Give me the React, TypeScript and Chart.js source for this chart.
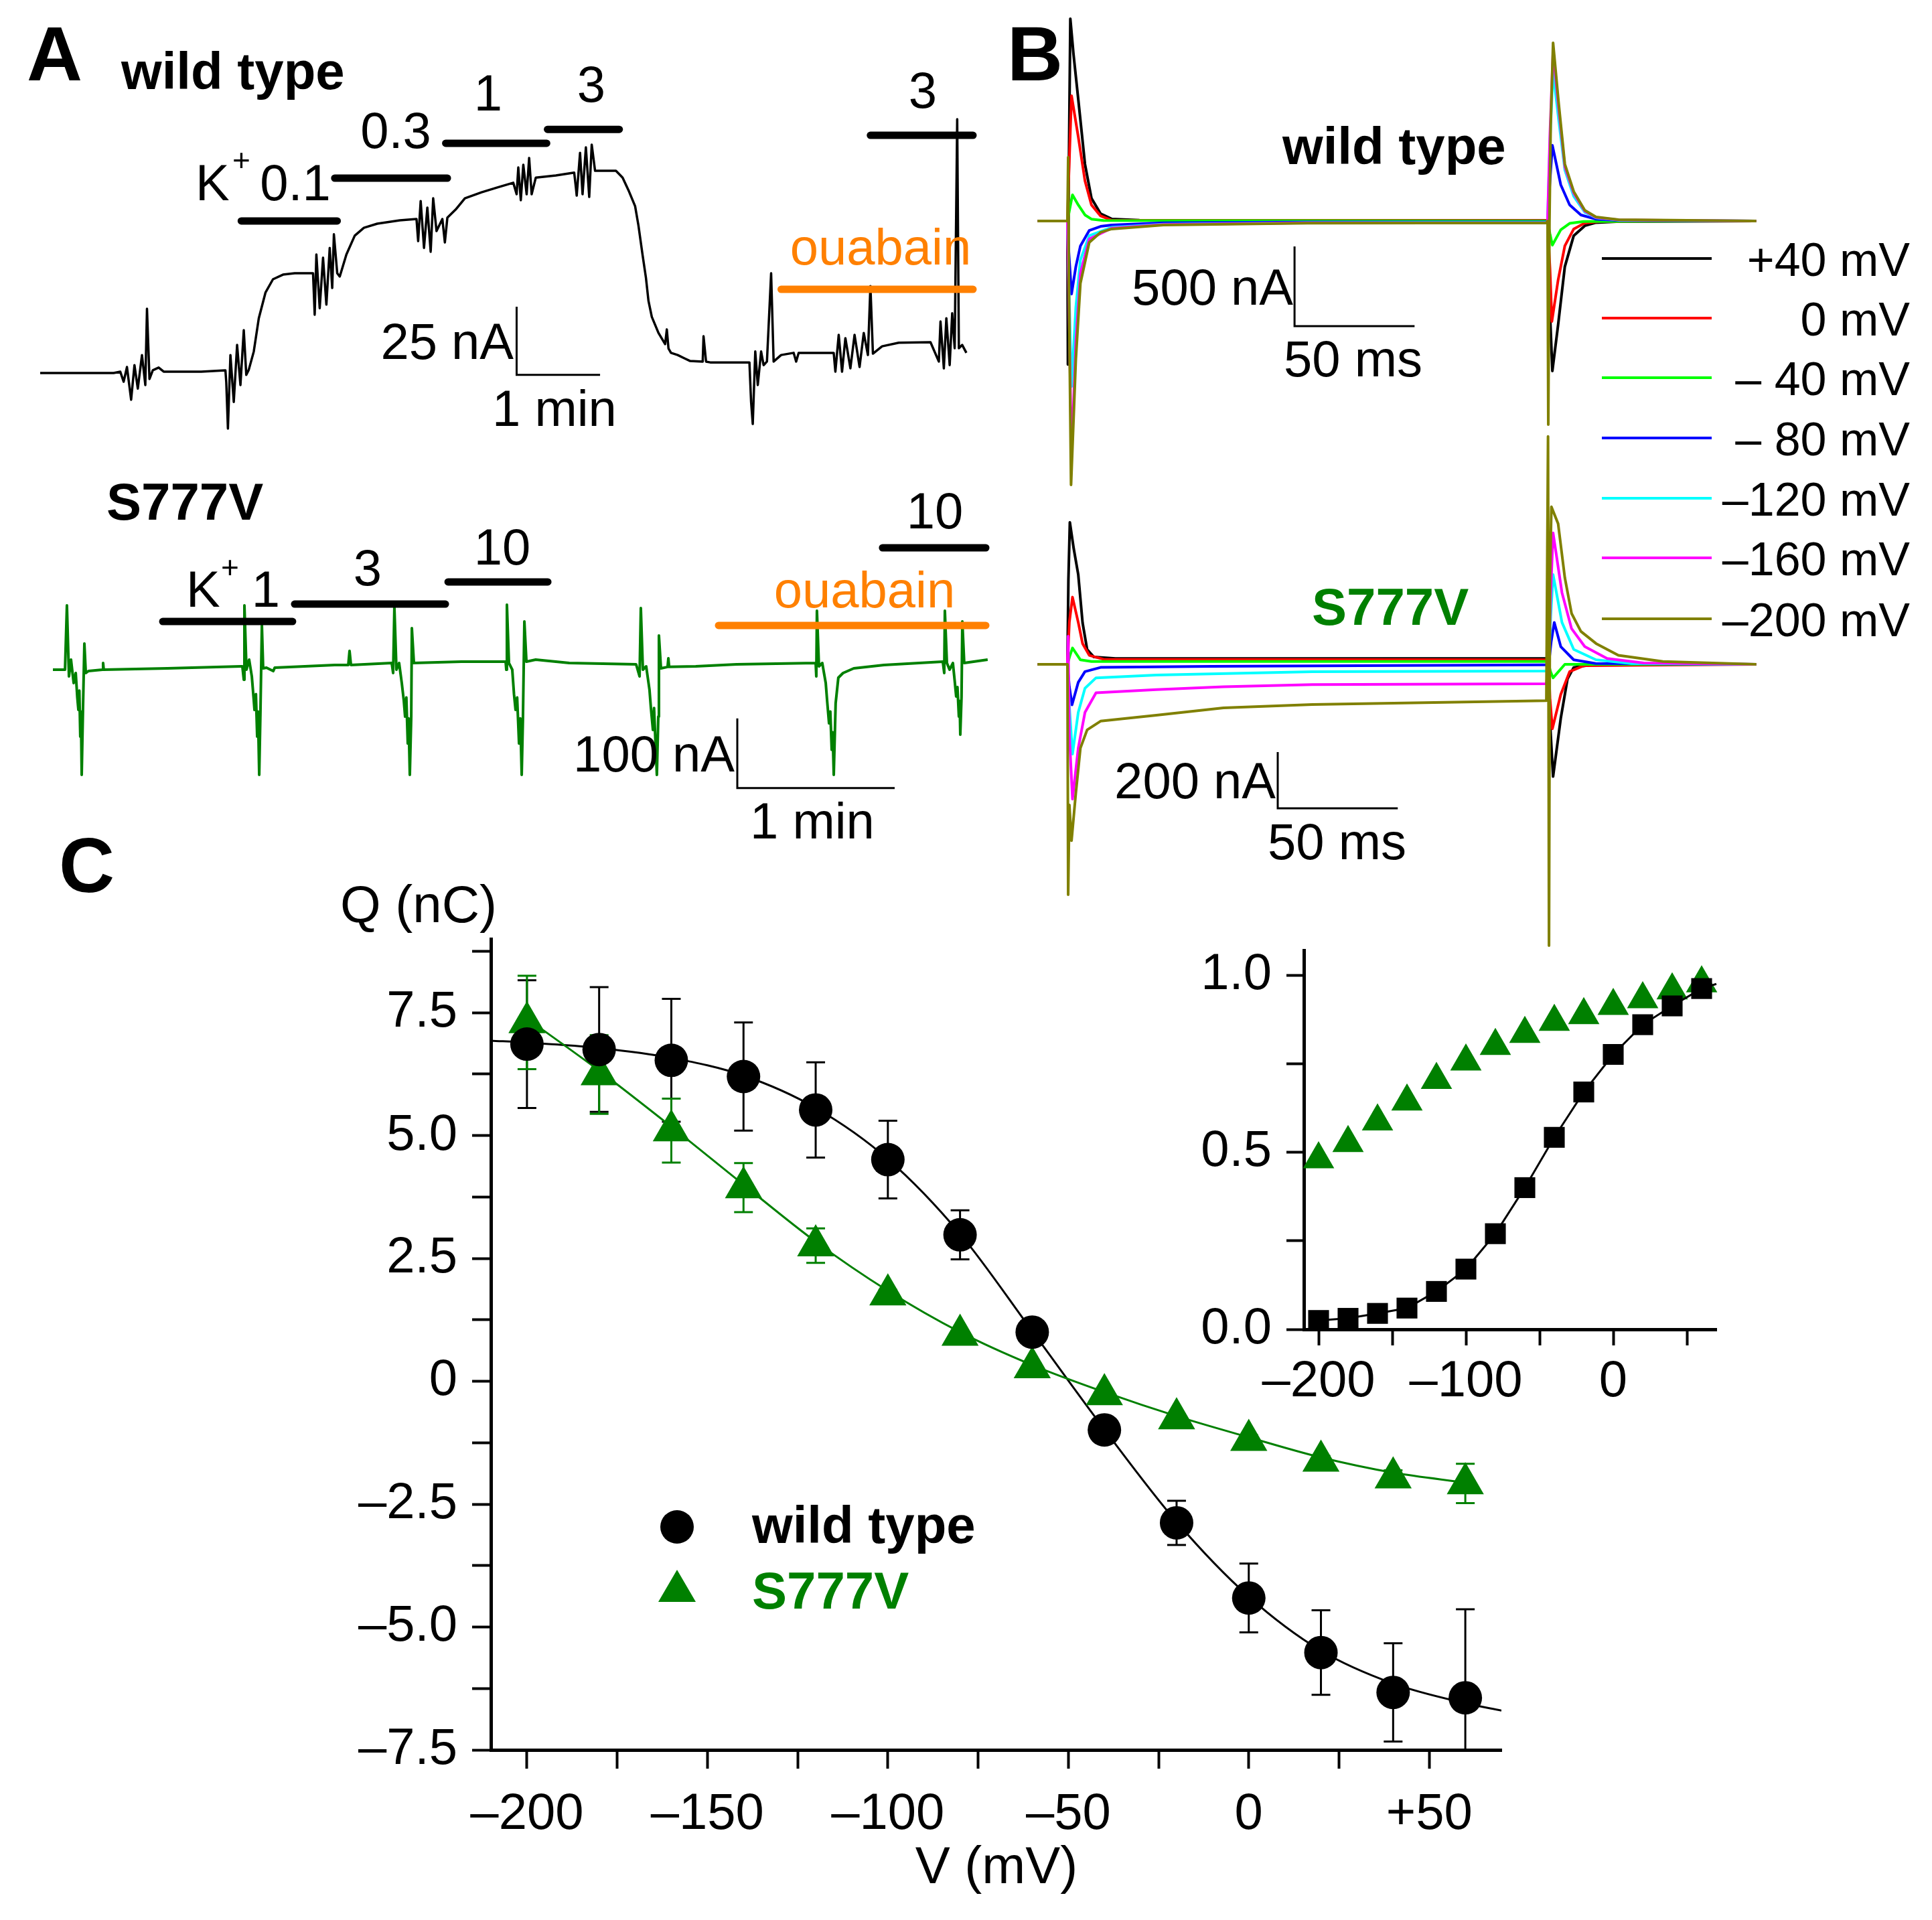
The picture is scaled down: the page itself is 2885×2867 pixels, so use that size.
import React, { useEffect, useRef } from 'react';
import { Chart, registerables } from 'chart.js';

Chart.register(...registerables);
const FONT = '"Liberation Sans", Arial, Helvetica, sans-serif';
Chart.defaults.font.family = FONT;

const GREEN = '#008000';
const ORANGE = '#ff8000';

// ---------------- Panel A (minutes, nA) ----------------
const wtTraceA: number[][] = [
  [0,0],[0.88,0],[0.96,0.5],[1.0,-3.2],[1.04,2.2],[1.09,-9.8],[1.13,2.9],[1.17,-5.7],[1.22,6.6],[1.26,-4.4],[1.28,23.6],[1.31,-2.2],[1.35,1],[1.42,2],[1.48,0.5],[1.93,0.5],[2.22,1],
  [2.23,-3.2],[2.25,-20.4],[2.28,6.6],[2.32,-10.6],[2.36,10.3],[2.40,-4.4],[2.44,15.7],[2.47,-0.7],[2.50,1.2],
  [2.56,7.9],[2.62,20.1],[2.70,29.5],[2.79,34.4],[2.91,36.1],[3.05,36.6],[3.27,36.6],
  [3.29,21.4],[3.31,43.5],[3.35,23.8],[3.39,42.3],[3.43,25.1],[3.47,45.9],[3.50,31.2],[3.52,50.9],[3.56,36.6],[3.59,35.4],
  [3.67,43.5],[3.77,50.4],[3.88,53.3],[4.04,54.8],[4.31,56],[4.51,56.5],
  [4.53,48.4],[4.56,63.1],[4.60,45.9],[4.64,60.7],[4.68,44.5],[4.71,64.1],[4.75,52.1],[4.82,56.5],[4.85,47.9],[4.88,57],
  [4.98,60],[5.09,64.1],[5.29,66.3],[5.48,68.1],[5.67,69.8],
  [5.71,65.6],[5.73,75.4],[5.76,63.4],[5.79,76.4],[5.83,65.6],[5.86,78.9],[5.89,65.6],[5.94,71.7],
  [6.18,72.5],[6.40,73.5],
  [6.42,68.1],[6.43,65.1],[6.47,80.8],[6.50,65.6],[6.54,82.8],[6.58,64.6],[6.61,83.8],[6.65,74.2],
  [6.74,74.2],[6.90,74.2],
  [6.98,71.7],[7.05,67.1],[7.13,61.2],[7.17,54.1],[7.22,43.2],[7.26,34.9],[7.29,26.5],[7.33,20.6],[7.41,14.7],[7.49,10.6],[7.51,16],[7.53,9],[7.56,7.4],[7.64,6.6],[7.72,5.4],[7.79,4.4],[7.94,4.2],[7.95,13.5],[7.98,4.2],[8.03,3.9],[8.50,3.9],
  [8.52,-10.6],[8.54,-18.7],[8.57,7.9],[8.60,-4.4],[8.64,7.9],[8.67,2.9],[8.71,4.2],[8.76,36.6],[8.79,4.2],
  [8.88,6.6],[9.03,7.4],[9.06,4.2],[9.09,7.4],[9.51,7.4],
  [9.53,0.5],[9.57,14],[9.61,0.5],[9.65,12.8],[9.71,1.7],[9.76,14],[9.82,2.2],[9.87,14.7],[9.92,6.6],[9.95,31.9],[9.98,7.1],
  [10.09,9.8],[10.29,11.1],[10.67,11.3],
  [10.77,4.2],[10.79,18.9],[10.83,1.7],[10.86,20.1],[10.90,2.9],[10.93,21.9],[10.96,9.1],[10.99,93.1],[11.01,9.1],[11.05,10.3],[11.10,7.4],
];
// [from, to, level]
const wtKBars: number[][] = [[2.41,3.56,55.8],[3.53,4.88,71.5],[4.86,6.07,84.3],[6.08,6.94,89.4],[9.95,11.18,87.2]];
const wtOuabainBar: number[] = [8.88, 11.18, 30.7];
const wtScaleA = { t: 5.71, i: -0.7, dI: 25, dT: 1 };

const mutTraceA: number[][] = [
  [0,0],[0.077,0],[0.089,92.3],[0.102,-9.6],[0.115,14.4],[0.132,-19.2],[0.145,-4.8],[0.155,-40],[0.162,-57.7],[0.168,-30],[0.174,-96],[0.178,-60],[0.183,-151],[0.191,-57.7],[0.2,37.5],[0.209,-4.8],[0.226,-1.9],[0.315,0],[0.319,9.6],[0.323,0],[0.728,1.9],[1.196,4.8],
  [1.204,4.8],[1.213,-14.4],[1.217,92.3],[1.23,0],[1.247,14.4],[1.264,-9.6],[1.275,-40],[1.281,-57.7],[1.29,-35],[1.298,-96],[1.303,-60],[1.311,-151],[1.319,-57.7],[1.328,63.5],[1.336,1.9],[1.357,2.9],[1.40,-2],[1.41,3],[1.791,6.7],[1.877,6.7],[1.885,26.9],[1.894,6.7],[2.153,9.6],
  [2.162,-4.8],[2.170,89.4],[2.183,0],[2.2,9.6],[2.217,-19.2],[2.23,-45],[2.238,-67.3],[2.246,-40],[2.255,-106],[2.26,-70],[2.268,-151],[2.277,-67.3],[2.281,59.6],[2.294,9.6],[2.596,11.5],[2.877,11.5],
  [2.881,0],[2.885,93.3],[2.898,9.6],[2.919,0],[2.93,-35],[2.94,-57.7],[2.95,-40],[2.962,-106],[2.97,-70],[2.979,-151],[2.987,-67.3],[2.996,69.2],[3.009,11.5],[3.068,14.4],[3.281,9.6],[3.706,7.7],
  [3.728,-9.6],[3.736,88.5],[3.749,0],[3.770,4.8],[3.791,-28.8],[3.80,-55],[3.813,-86.5],[3.82,-55],[3.83,-110],[3.838,-151],[3.847,-67.3],[3.851,49],[3.864,1.9],[3.906,4],[3.911,16.3],[3.916,4],[4.085,4.8],[4.345,7.7],[4.847,9.6],
  [4.851,-9.6],[4.855,84.6],[4.868,4.8],[4.889,9.6],[4.90,-5],[4.911,-19.2],[4.92,-45],[4.932,-76.9],[4.94,-60],[4.949,-115],[4.955,-90],[4.962,-151],[4.974,-48],[4.991,-11.5],[5.021,-4.8],[5.089,1.9],[5.281,6.7],[5.655,11.5],
  [5.664,-4.8],[5.668,84.6],[5.681,9.6],[5.698,0],[5.719,9.6],[5.73,-15],[5.740,-38.5],[5.748,-25],[5.757,-67.3],[5.762,-45],[5.766,-93.3],[5.774,-38.5],[5.779,69.2],[5.791,9.6],[5.94,14.4],
];
const mutKBars: number[][] = [[0.698,1.523,69.2],[1.536,2.494,94.2],[2.511,3.145,126],[5.272,5.928,175]];
const mutOuabainBar: number[] = [4.23, 5.928, 63.5];
const mutScaleA = { t: 4.349, i: -170, dI: 100, dT: 1 };

// ---------------- Panel B (ms, nA) ----------------
const bLabels = ['+40 mV', '0 mV', '\u2013 40 mV', '\u2013 80 mV', '\u2013120 mV', '\u2013160 mV', '\u2013200 mV'];
const bColors = ['#000000', '#ff0000', '#00ff00', '#0000ff', '#00ffff', '#ff00ff', '#808000'];

const wtP40: number[][] = [[-12.5,0],[0,0],[0.2,-900],[0.5,200],[1.2,1269],[2.5,1050],[4.5,765],[7.3,357],[10,143],[13.8,46],[18.4,13],[30,5],[199.5,3],[200,0],[200.8,-500],[202,-941],[204.4,-651],[207.2,-286],[210.9,-92],[215.5,-30],[220.2,-10],[230,-3],[287,0]];
const wtP0: number[][] = [[-12.5,0],[0,0],[0.6,300],[1.7,786],[4.5,529],[7.3,252],[10,101],[13.8,32],[18.4,5],[199.5,3],[200,0],[201,-300],[201.8,-630],[204.4,-370],[207.2,-156],[210.9,-50],[215.5,-13],[222,-3],[287,0]];
const wtM40: number[][] = [[-12.5,0],[0,0],[1,80],[2.1,164],[4.5,101],[7.3,38],[10,12],[15,3],[199.5,0],[200,0],[201,-80],[202,-151],[205.5,-55],[209.2,-15],[215,-3],[287,0]];
const wtM80: number[][] = [[-12.5,0],[0,0],[0.6,-200],[1.7,-458],[3.5,-286],[5.4,-156],[9.1,-59],[13.8,-34],[18.4,-25],[40,-12],[100,-6],[199.5,-5],[200,0],[201,250],[202,475],[205.5,227],[209.2,101],[213.9,38],[220,12],[230,3],[287,0]];
const wtM120: number[][] = [[-12.5,0],[0,0],[0.6,-400],[1.7,-1038],[3.5,-542],[5.4,-244],[9.1,-92],[18.4,-40],[40,-20],[100,-10],[199.5,-8],[200,0],[201,500],[202.3,937],[204.6,640],[207.2,320],[210.9,155],[215.5,55],[220.2,20],[230,5],[287,0]];
const wtM160: number[][] = [[-12.5,0],[0,0],[0.6,-500],[1.7,-1479],[3.5,-756],[5.4,-328],[9.1,-113],[18.4,-45],[40,-22],[100,-12],[199.5,-10],[200,0],[201,550],[202.3,1063],[204.6,710],[207.2,340],[210.9,175],[215.5,62],[220.2,22],[230,6],[287,0]];
const wtM200: number[][] = [[-12.5,0],[0,0],[0.3,400],[0.6,-400],[1.5,-1655],[3.5,-866],[5.4,-391],[9.1,-134],[13.8,-71],[18.4,-50],[40,-25],[100,-14],[199.5,-12],[200,0],[200.3,-1277],[200.8,0],[201.3,600],[202.3,1118],[204.6,744],[207.2,357],[210.9,185],[215.5,67],[220.2,25],[229.5,8],[287,0]];

const mutP40: number[][] = [[-12.5,0],[0,0],[0.4,300],[1.0,505],[2.6,412],[4.5,319],[6.3,148],[8.2,53],[11,26],[20,21],[199.5,21],[200.3,0],[201,-200],[202.3,-399],[205.5,-192],[208.3,-52],[210.9,-11],[220,0],[287,0]];
const mutP0: number[][] = [[-12.5,0],[0,0],[0.8,150],[2.1,239],[4.5,149],[6.3,74],[9.1,32],[15,18],[199.5,16],[200.5,0],[201,-120],[202,-229],[205.5,-107],[209.2,-26],[215,-5],[287,0]];
const mutM40: number[][] = [[-12.5,0],[0,0],[1,30],[2.1,58],[5.4,16],[10,10],[199.5,10],[200.5,0],[201.2,-25],[202.3,-48],[207.2,0],[287,0]];
const mutM80: number[][] = [[-12.5,0],[0,0],[0.8,-80],[1.9,-144],[4.5,-64],[7.3,-26],[13.8,-11],[60,-7],[199.5,-2],[200.5,0],[201.5,80],[202.8,149],[205.5,63],[210.9,16],[220,3],[287,0]];
const mutM120: number[][] = [[-12.5,0],[0,0],[0.8,-150],[2.1,-319],[4.5,-171],[7.3,-85],[11.9,-48],[37,-38],[102,-26],[199.5,-24],[200.5,0],[201.3,170],[202.3,319],[206,149],[210.9,53],[220.2,16],[235,3],[287,0]];
const mutM160: number[][] = [[-12.5,0],[0,0],[0.3,100],[0.8,-250],[2.1,-479],[4.5,-298],[7.3,-171],[11.9,-101],[37,-90],[65,-80],[102,-72],[199.5,-69],[200.5,0],[201.3,250],[202.3,467],[206,255],[210,127],[215.5,63],[224.8,21],[240,5],[287,0]];
const mutM200: number[][] = [[-12.5,0],[0,0],[0.3,-819],[0.8,-500],[1.7,-627],[3.5,-457],[5.4,-298],[8.2,-233],[13.8,-202],[37,-181],[65,-155],[102,-143],[199.5,-129],[200.2,810],[200.6,-1000],[201,300],[201.6,560],[204.4,500],[207.2,308],[210,181],[213.9,117],[220.2,74],[229.5,32],[248,10],[287,0]];

const wtTracesB = [wtP40, wtP0, wtM40, wtM80, wtM120, wtM160, wtM200];
const mutTracesB = [mutP40, mutP0, mutM40, mutM80, mutM120, mutM160, mutM200];
const wtScaleB = { t: 94.6, i: -660, dI: 500, dT: 50 };
const mutScaleB = { t: 87.6, i: -512, dI: 200, dT: 50 };

// ---------------- Panel C ----------------
const cVoltages = [-200,-180,-160,-140,-120,-100,-80,-60,-40,-20,0,20,40,60];
const wtQ = [6.86,6.75,6.53,6.2,5.52,4.51,2.98,1.0,-0.99,-2.88,-4.41,-5.52,-6.33,-6.44];
const wtQErr = [1.3,1.27,1.25,1.1,0.97,0.79,0.5,0.1,0.1,0.45,0.7,0.86,1.0,1.8];
const mutQ = [7.3,6.24,5.1,3.94,2.76,1.76,0.94,0.28,-0.27,-0.76,-1.2,-1.62,-1.96,-2.08];
const mutQErr = [0.95,0.8,0.65,0.5,0.35,0.1,0.08,0.08,0.08,0.08,0.1,0.1,0.15,0.4];
const wtFitV = [-210,-200,-180,-160,-140,-120,-100,-80,-60,-40,-20,0,20,40,60,70];
const wtFitQ = [6.93,6.89,6.78,6.58,6.22,5.56,4.52,3.0,1.02,-0.98,-2.86,-4.38,-5.48,-6.15,-6.55,-6.7];
const mutFitV = [-200,-180,-160,-140,-120,-100,-80,-60,-40,-20,0,20,40,60];
const mutFitQ = [7.38,6.32,5.18,4.0,2.84,1.84,1.0,0.33,-0.22,-0.71,-1.14,-1.55,-1.86,-2.06];

const insetWtQ = [0.025,0.031,0.045,0.06,0.107,0.17,0.27,0.40,0.542,0.67,0.776,0.86,0.913,0.962];
const insetMutQ = [0.48,0.526,0.587,0.643,0.704,0.756,0.80,0.834,0.868,0.887,0.913,0.932,0.957,0.977];
const insetFitV = [-200,-180,-160,-140,-120,-100,-80,-60,-40,-20,0,20,40,60,70];
const insetFitQ = [0.025,0.031,0.045,0.06,0.107,0.17,0.27,0.40,0.542,0.67,0.776,0.86,0.913,0.962,0.975];

// ---------------- helpers ----------------
const xy = (pts: number[][]) => pts.map(([x, y]) => ({ x, y }));
const zip = (xs: number[], ys: number[]) => xs.map((x, i) => ({ x, y: ys[i] }));
const isMult = (v: number, s: number) => Math.abs(v / s - Math.round(v / s)) < 1e-6;

const traceDs = (pts: number[][], color: string, width: number, order = 0) => ({
  data: xy(pts), borderColor: color, borderWidth: width, pointRadius: 0, fill: false, order,
  borderJoinStyle: 'round', tension: 0,
});
const barDs = (b: number[], color: string) => ({
  data: [{ x: b[0], y: b[2] }, { x: b[1], y: b[2] }], borderColor: color, borderWidth: 11,
  borderCapStyle: 'round', pointRadius: 0, fill: false, order: -1,
});
const scaleDs = (s: { t: number; i: number; dI: number; dT: number }) => ({
  data: [{ x: s.t, y: s.i + s.dI }, { x: s.t, y: s.i }, { x: s.t + s.dT, y: s.i }],
  borderColor: '#000', borderWidth: 3, pointRadius: 0, fill: false, order: -1,
});

function traceConfig(datasets: any[], x: number[], y: number[]): any {
  return {
    type: 'line',
    data: { datasets },
    options: {
      animation: false, responsive: false, devicePixelRatio: 1, events: [],
      layout: { padding: 0 },
      plugins: { legend: { display: false }, tooltip: { enabled: false } },
      scales: {
        x: { type: 'linear', display: false, min: x[0], max: x[1] },
        y: { type: 'linear', display: false, min: y[0], max: y[1] },
      },
    },
  };
}

const errorBarPlugin = {
  id: 'errorBars',
  beforeDatasetsDraw(chart: any) {
    const { ctx, chartArea } = chart;
    const xs = chart.scales.x, ys = chart.scales.y;
    ctx.save();
    ctx.beginPath();
    ctx.rect(chartArea.left, chartArea.top, chartArea.right - chartArea.left, chartArea.bottom - chartArea.top);
    ctx.clip();
    chart.data.datasets.forEach((ds: any) => {
      if (!ds.errorBars) return;
      ctx.strokeStyle = ds.errorColor;
      ctx.lineWidth = 3;
      ds.data.forEach((p: any, j: number) => {
        const e = ds.errorBars[j];
        const px = xs.getPixelForValue(p.x);
        const top = ys.getPixelForValue(p.y + e);
        const bot = ys.getPixelForValue(p.y - e);
        const cap = 14;
        ctx.beginPath();
        ctx.moveTo(px, top); ctx.lineTo(px, bot);
        ctx.moveTo(px - cap, top); ctx.lineTo(px + cap, top);
        ctx.moveTo(px - cap, bot); ctx.lineTo(px + cap, bot);
        ctx.stroke();
      });
    });
    ctx.restore();
  },
};

const signed = (v: number) => (v < 0 ? '\u2013' + Math.abs(v) : v > 0 ? '+' + v : '0');

function axisOpts(min: number, max: number, step: number, labelStep: number, fmt: (v: number) => string, tickLen: number, pad: number, fit: (s: any) => void): any {
  return {
    type: 'linear', min, max,
    afterBuildTicks: (s: any) => { s.ticks = s.ticks.filter((t: any) => isMult(t.value, step)); },
    afterFit: fit,
    ticks: {
      stepSize: step, includeBounds: false, autoSkip: false, maxRotation: 0, minRotation: 0, padding: pad,
      color: '#000', font: { size: 76, family: FONT },
      callback: (v: number) => (isMult(v, labelStep) ? fmt(v) : ''),
    },
    grid: { display: true, drawOnChartArea: false, drawTicks: true, tickLength: tickLen, tickWidth: 4, tickColor: '#000' },
    border: { display: true, color: '#000', width: 5 },
  };
}

function mainConfig(): any {
  return {
    type: 'scatter',
    data: {
      datasets: [
        { data: zip(cVoltages, wtQ), pointStyle: 'circle', pointRadius: 25, backgroundColor: '#000', borderWidth: 0, order: 0, errorBars: wtQErr, errorColor: '#000' },
        { data: zip(cVoltages, mutQ), pointStyle: 'triangle', pointRadius: 32, backgroundColor: GREEN, borderWidth: 0, order: 1, errorBars: mutQErr, errorColor: GREEN },
        { data: zip(wtFitV, wtFitQ), showLine: true, pointRadius: 0, borderColor: '#000', borderWidth: 3, cubicInterpolationMode: 'monotone', order: 3 },
        { data: zip(mutFitV, mutFitQ), showLine: true, pointRadius: 0, borderColor: GREEN, borderWidth: 3, cubicInterpolationMode: 'monotone', order: 2 },
      ],
    },
    options: {
      animation: false, responsive: false, devicePixelRatio: 1, events: [],
      layout: { padding: { left: 0, top: 72, right: 48, bottom: 0 } },
      plugins: { legend: { display: false }, tooltip: { enabled: false } },
      scales: {
        x: axisOpts(-210, 70, 25, 50, signed, 28, 23, (s: any) => { s.height = 237; }),
        y: axisOpts(-7.5, 9, 1.25, 2.5, (v: number) => (v === 0 ? '0' : (v < 0 ? '\u2013' : '') + Math.abs(v).toFixed(1)), 28, 22, (s: any) => { s.width = 333; }),
      },
    },
    plugins: [errorBarPlugin],
  };
}

function insetConfig(): any {
  return {
    type: 'scatter',
    data: {
      datasets: [
        { data: zip(cVoltages, insetWtQ), pointStyle: 'rect', pointRadius: 22, backgroundColor: '#000', borderWidth: 0, order: 0, clip: false },
        { data: zip(insetFitV, insetFitQ), showLine: true, pointRadius: 0, borderColor: '#000', borderWidth: 3, order: 1, clip: false },
        { data: zip(cVoltages, insetMutQ), pointStyle: 'triangle', pointRadius: 27, backgroundColor: GREEN, borderWidth: 0, order: 2, clip: false },
      ],
    },
    options: {
      animation: false, responsive: false, devicePixelRatio: 1, events: [],
      layout: { padding: { left: 0, top: 80, right: 37, bottom: 0 } },
      plugins: { legend: { display: false }, tooltip: { enabled: false } },
      scales: {
        x: axisOpts(-210, 70, 50, 100, signed, 24, 9, (s: any) => { s.height = 145; }),
        y: axisOpts(0, 1.07, 0.25, 0.5, (v: number) => v.toFixed(1), 26, 22, (s: any) => { s.width = 177; }),
      },
    },
  };
}

function ChartCanvas({ left, top, width, height, make }: { left: number; top: number; width: number; height: number; make: () => any }) {
  const ref = useRef<HTMLCanvasElement | null>(null);
  useEffect(() => {
    if (!ref.current) return;
    const chart = new Chart(ref.current, make());
    return () => chart.destroy();
  }, []);
  return <canvas ref={ref} width={width} height={height} style={{ position: 'absolute', left, top, width, height }} />;
}

function Label({ x, y, text, size = 76, bold = false, color = '#000', align = 'left' }: { x: number; y: number; text: string; size?: number; bold?: boolean; color?: string; align?: string }) {
  const tx = align === 'right' ? 'translateX(-100%)' : align === 'center' ? 'translateX(-50%)' : undefined;
  return (
    <div style={{ position: 'absolute', left: x, top: y - 0.8465 * size, fontSize: size, lineHeight: `${size}px`, fontFamily: FONT, fontWeight: bold ? 700 : 400, color, whiteSpace: 'pre', transform: tx }}>{text}</div>
  );
}

export default function App() {
  const wtA = () => traceConfig([
    traceDs(wtTraceA, '#000', 3.5),
    ...wtKBars.map((b) => barDs(b, '#000')),
    barDs(wtOuabainBar, ORANGE),
    scaleDs(wtScaleA),
  ], [-0.1605, 11.557], [-30.22, 107.37]);

  const mutA = () => traceConfig([
    traceDs(mutTraceA, GREEN, 4),
    ...mutKBars.map((b) => barDs(b, '#000')),
    barDs(mutOuabainBar, ORANGE),
    scaleDs(mutScaleA),
  ], [-0.166, 6.047], [-211.54, 230.77]);

  const wtB = () => traceConfig([
    ...wtTracesB.map((t, i) => traceDs(t, bColors[i], 4, 10 - i)),
    scaleDs(wtScaleB),
  ], [-15.06, 291.8], [-1806.7, 1386.6]);

  const mutB = () => traceConfig([
    ...mutTracesB.map((t, i) => traceDs(t, bColors[i], 4, 10 - i)),
    scaleDs(mutScaleB),
  ], [-15.06, 291.8], [-1066.7, 838.1]);

  const legendY = [386, 475, 564, 654, 744, 833, 924];

  return (
    <div style={{ position: 'absolute', left: 0, top: 0, width: 2885, height: 2867, background: '#fff', overflow: 'hidden' }}>
      <ChartCanvas left={40} top={120} width={1460} height={560} make={wtA} />
      <ChartCanvas left={40} top={760} width={1460} height={460} make={mutA} />
      <ChartCanvas left={1540} top={0} width={1100} height={760} make={wtB} />
      <ChartCanvas left={1540} top={640} width={1100} height={800} make={mutB} />
      <ChartCanvas left={400} top={1330} width={1890} height={1520} make={mainConfig} />
      <ChartCanvas left={1770} top={1339} width={830} height={791} make={insetConfig} />

      {/* panel letters */}
      <Label x={40} y={120} text="A" size={115} bold />
      <Label x={1504} y={120} text="B" size={115} bold />
      <Label x={88} y={1332} text="C" size={115} bold />

      {/* Panel A wild type */}
      <Label x={181} y={133} text="wild type" size={78} bold />
      <Label x={292} y={299} text="K" />
      <Label x={347} y={255} text="+" size={46} />
      <Label x={441} y={299} text="0.1" align="center" />
      <Label x={591} y={221} text="0.3" align="center" />
      <Label x={729} y={165} text="1" align="center" />
      <Label x={883} y={152} text="3" align="center" />
      <Label x={1378} y={161} text="3" align="center" />
      <Label x={1315} y={395} text="ouabain" align="center" color={ORANGE} />
      <Label x={767} y={536} text="25 nA" align="right" />
      <Label x={735} y={636} text="1 min" />

      {/* Panel A S777V */}
      <Label x={159} y={776} text="S777V" size={78} bold />
      <Label x={278} y={906} text="K" />
      <Label x={330} y={863} text="+" size={46} />
      <Label x={397} y={906} text="1" align="center" />
      <Label x={549} y={874} text="3" align="center" />
      <Label x={750} y={843} text="10" align="center" />
      <Label x={1396} y={789} text="10" align="center" />
      <Label x={1291} y={907} text="ouabain" align="center" color={ORANGE} />
      <Label x={1097} y={1152} text="100 nA" align="right" />
      <Label x={1120} y={1252} text="1 min" />

      {/* Panel B */}
      <Label x={1915} y={245} text="wild type" size={78} bold />
      <Label x={1931} y={455} text="500 nA" align="right" />
      <Label x={1917} y={562} text="50 ms" />
      <Label x={1959} y={933} text="S777V" size={78} bold color={GREEN} />
      <Label x={1905} y={1192} text="200 nA" align="right" />
      <Label x={1893} y={1283} text="50 ms" />
      {bLabels.map((l, i) => (
        <React.Fragment key={l}>
          <div style={{ position: 'absolute', left: 2392, top: legendY[i] - 2, width: 164, height: 4, background: bColors[i] }} />
          <Label x={2852} y={legendY[i] + 26} text={l} size={70} align="right" />
        </React.Fragment>
      ))}

      {/* Panel C */}
      <Label x={508} y={1377} text="Q (nC)" size={78} />
      <Label x={1488} y={2812} text="V (mV)" size={78} align="center" />
      <div style={{ position: 'absolute', left: 1011 - 25, top: 2280 - 25, width: 50, height: 50, borderRadius: '50%', background: '#000' }} />
      <Label x={1123} y={2304} text="wild type" size={78} bold />
      <div style={{ position: 'absolute', left: 1011 - 28, top: 2344, width: 0, height: 0, borderLeft: '28px solid transparent', borderRight: '28px solid transparent', borderBottom: `48px solid ${GREEN}` }} />
      <Label x={1123} y={2402} text="S777V" size={78} bold color={GREEN} />
    </div>
  );
}
